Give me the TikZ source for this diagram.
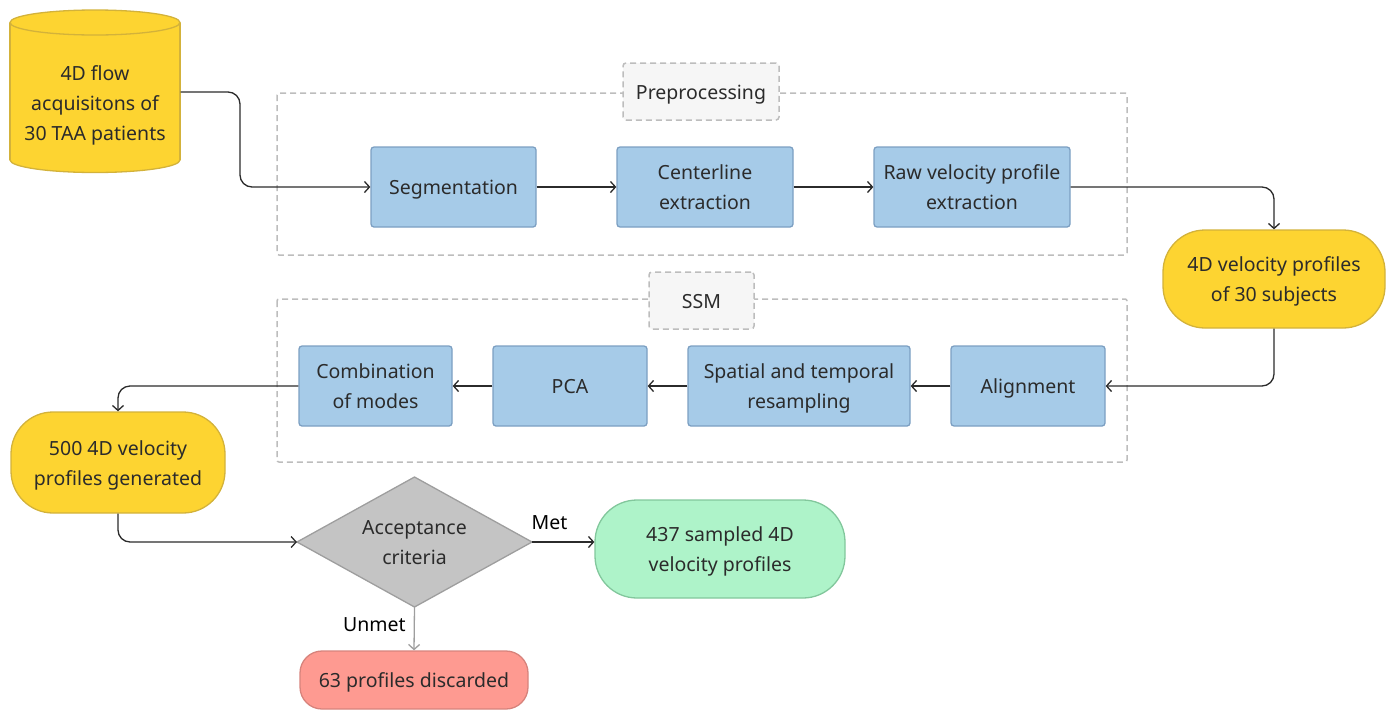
\documentclass[tikz,border=0pt]{standalone}
\usepackage{fontspec}
\setmainfont{Noto Sans}
\usetikzlibrary{arrows.meta}
\definecolor{bluef}{HTML}{A6CBE8}
\definecolor{blued}{HTML}{7C9FC2}
\definecolor{yelf}{HTML}{FDD431}
\definecolor{yeld}{HTML}{D3B23A}
\definecolor{grnf}{HTML}{AEF3C9}
\definecolor{grnd}{HTML}{82C79C}
\definecolor{redf}{HTML}{FE9A91}
\definecolor{redd}{HTML}{D7837C}
\definecolor{diaf}{HTML}{C4C4C4}
\definecolor{diad}{HTML}{9E9E9E}
\definecolor{grpd}{HTML}{BDBDBD}
\definecolor{grpf}{HTML}{F6F6F6}
\definecolor{txt}{HTML}{2B2B2B}
\newcommand{\tb}[1]{\raisebox{-1.5pt}[\height][\depth]{\begin{tabular}{@{}c@{}}#1\end{tabular}}}
\tikzset{
  base/.style={font=\fontsize{19.5}{30}\selectfont, text=txt, align=center, line width=1.3pt, inner sep=0pt},
  procbox/.style={base, draw=blued, fill=bluef, rounded corners=3pt},
  yelpill/.style={base, draw=yeld, fill=yelf, rounded corners=42pt},
  grnpill/.style={base, draw=grnd, fill=grnf, rounded corners=42pt},
  redpill/.style={base, draw=redd, fill=redf, rounded corners=22pt},
  grp/.style={draw=grpd, line width=1.5pt, dash pattern=on 6pt off 4pt, rounded corners=2pt},
  grplabel/.style={base, draw=grpd, fill=grpf, line width=1.5pt, dash pattern=on 6pt off 4pt, rounded corners=3pt},
  conn/.style={draw=txt, line width=1.3pt, rounded corners=12pt, -{Straight Barb[length=5pt,width=11pt,line width=1.3pt]}},
  lbl/.style={font=\fontsize{19.5}{22}\selectfont, text=black, inner sep=0pt}
}
\begin{document}
\begin{tikzpicture}[x=1pt,y=-1pt]
\useasboundingbox (0,0) rectangle (1395,710);
% group boxes
\draw[grp] (277,93) rectangle (1127,255);
\draw[grp] (277,299) rectangle (1127,462);
\node[grplabel, minimum width=156pt, minimum height=57pt] (prel) at (701,91.5) {\tb{Preprocessing}};
\node[grplabel, minimum width=105pt, minimum height=57pt] (ssml) at (701.5,300.5) {\tb{SSM}};
% cylinder
\filldraw[fill=yelf, draw=yeld, line width=1.3pt] (95,160) ellipse (85 and 12.5);
\fill[yelf] (10,22.5) rectangle (180,160);
\draw[yeld, line width=1.3pt] (10,22.5) -- (10,160) (180,22.5) -- (180,160);
\filldraw[fill=yelf, draw=yeld, line width=1.3pt] (95,22.5) ellipse (85 and 12.5);
\node[base, minimum width=170pt, minimum height=140pt] (cyl) at (95,92) {};
\node[base] (cyltxt) at (95,103) {\tb{4D flow\\acquisitons of\\30 TAA patients}};
% process boxes
\node[procbox, minimum width=165pt, minimum height=80pt] (seg) at (453.5,187) {\tb{Segmentation}};
\node[procbox, minimum width=176pt, minimum height=80pt] (cen) at (705,187) {\tb{Centerline\\extraction}};
\node[procbox, minimum width=196pt, minimum height=80pt] (raw) at (972,187) {\tb{Raw velocity profile\\extraction}};
\node[yelpill, minimum width=222pt, minimum height=98pt] (vp30) at (1274,279) {\tb{4D velocity profiles\\of 30 subjects}};
\node[procbox, minimum width=154pt, minimum height=80pt] (ali) at (1028,386) {\tb{Alignment}};
\node[procbox, minimum width=222pt, minimum height=80pt] (spa) at (799,386) {\tb{Spatial and temporal\\resampling}};
\node[procbox, minimum width=154pt, minimum height=80pt] (pca) at (570,386) {\tb{PCA}};
\node[procbox, minimum width=153pt, minimum height=80pt] (com) at (375.5,386) {\tb{Combination\\of modes}};
\node[yelpill, minimum width=214pt, minimum height=101pt] (gen) at (118,462.5) {\tb{500 4D velocity\\profiles generated}};
% diamond
\coordinate (dW) at (297,542);
\coordinate (dE) at (532,542);
\coordinate (dN) at (414.5,477);
\coordinate (dS) at (414.5,607);
\filldraw[fill=diaf, draw=diad, line width=1.3pt, line join=round] (dW) -- (dN) -- (dE) -- (dS) -- cycle;
\node[base] (dia) at (414.5,542) {\tb{Acceptance\\criteria}};
\node[grnpill, minimum width=250pt, minimum height=98pt] (acc) at (720,549) {\tb{437 sampled 4D\\velocity profiles}};
\node[redpill, minimum width=228pt, minimum height=58pt] (dis) at (414,680) {\tb{63 profiles discarded}};
% connectors
\draw[conn] (cyl.east) -- (240,92) -- (240,187) -- (seg.west);
\draw[conn] (seg) -- (cen);
\draw[conn] (cen) -- (raw);
\draw[conn] (raw.east) -| (vp30.north);
\draw[conn] (vp30.south) |- (ali.east);
\draw[conn] (ali) -- (spa);
\draw[conn] (spa) -- (pca);
\draw[conn] (pca) -- (com);
\draw[conn] (com.west) -| (gen.north);
\draw[conn] (gen.south) |- (dW);
\draw[conn] (dE) -- (acc.west |- dE) node[lbl, pos=0.28, above=12pt] (met) {Met};
\draw[conn, draw=diad] (dS) -- (dis.north) node[lbl, pos=0.4, left=8pt] (unmet) {Unmet};
\end{tikzpicture}
\end{document}
